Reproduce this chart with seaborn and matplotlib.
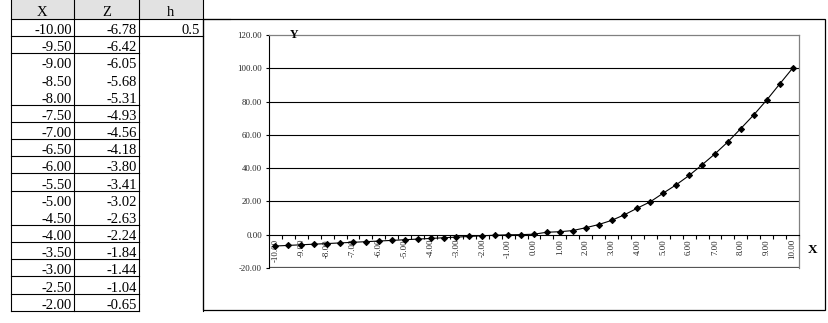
import matplotlib
matplotlib.use("Agg")
import matplotlib.pyplot as plt
from matplotlib.lines import Line2D
from matplotlib.patches import Rectangle
import numpy as np
import seaborn as sns

# ---------------- data ----------------
x_values = [-10.0, -9.5, -9.0, -8.5, -8.0, -7.5, -7.0, -6.5, -6.0, -5.5,
            -5.0, -4.5, -4.0, -3.5, -3.0, -2.5, -2.0, -1.5, -1.0, -0.5,
            0.0, 0.5, 1.0, 1.5, 2.0, 2.5, 3.0, 3.5, 4.0, 4.5,
            5.0, 5.5, 6.0, 6.5, 7.0, 7.5, 8.0, 8.5, 9.0, 9.5, 10.0]
y_values = [-6.78, -6.42, -6.05, -5.68, -5.31, -4.93, -4.56, -4.18, -3.80, -3.41,
            -3.02, -2.63, -2.24, -1.84, -1.44, -1.04, -0.65, -0.30, -0.05, 0.05,
            0.3, 1.5, 1.8, 2.5, 4.2, 6.1, 8.6, 12.0, 16.0, 19.8,
            25.0, 30.0, 35.6, 42.0, 48.6, 55.8, 63.8, 72.0, 80.9, 90.5, 100.0]
x_tick_labels = ["-10.00", "-9.00", "-8.00", "-7.00", "-6.00", "-5.00", "-4.00",
                 "-3.00", "-2.00", "-1.00", "0.00", "1.00", "2.00", "3.00",
                 "4.00", "5.00", "6.00", "7.00", "8.00", "9.00", "10.00"]
x_tick_values = [-10, -9, -8, -7, -6, -5, -4, -3, -2, -1, 0,
                 1, 2, 3, 4, 5, 6, 7, 8, 9, 10]
y_tick_values = [-20, 0, 20, 40, 60, 80, 100, 120]
gridline_values = [20, 40, 60, 80, 100]

table_headers = ["X", "Z", "h"]
table_x = ["-10.00", "-9.50", "-9.00", "-8.50", "-8.00", "-7.50", "-7.00", "-6.50",
           "-6.00", "-5.50", "-5.00", "-4.50", "-4.00", "-3.50", "-3.00", "-2.50", "-2.00"]
table_z = ["-6.78", "-6.42", "-6.05", "-5.68", "-5.31", "-4.93", "-4.56", "-4.18",
           "-3.80", "-3.41", "-3.02", "-2.63", "-2.24", "-1.84", "-1.44", "-1.04", "-0.65"]
table_h = "0.5"
rows_with_bottom_border = [0, 1, 4, 5, 6, 7, 8, 9, 11, 12, 13, 14, 15, 16]

# ---------------- figure ----------------
W, H = 829, 323
fig = plt.figure(figsize=(W / 100, H / 100), dpi=100)
plt.rcParams['font.family'] = ['Liberation Serif', 'DejaVu Serif']
SERIF = ['Liberation Serif', 'DejaVu Serif']


def fx(px):
    return px / W


def fy(py):
    return 1 - py / H


def hline(x0, x1, y, color='black', lw=0.8):
    fig.add_artist(Line2D([fx(x0), fx(x1)], [fy(y), fy(y)], color=color, lw=lw,
                          transform=fig.transFigure))


def vline(x, y0, y1, color='black', lw=0.8):
    fig.add_artist(Line2D([fx(x), fx(x)], [fy(y0), fy(y1)], color=color, lw=lw,
                          transform=fig.transFigure))


# ---------------- spreadsheet table ----------------
col_edges = [11, 74, 139, 203]
header_top, header_bot = 0, 19
row_h = 17.16

fig.add_artist(Rectangle((fx(col_edges[0]), fy(header_bot)),
                         fx(col_edges[3] - col_edges[0]), (header_bot - header_top) / H,
                         transform=fig.transFigure, facecolor='#e2e2e2',
                         edgecolor='none', zorder=0))
header_centers = [42, 106.5, 171]
for label, cx in zip(table_headers, header_centers):
    fig.text(fx(cx), fy(16.3), label, ha='center', va='baseline',
             fontsize=10.5, family=SERIF)

hline(col_edges[0], 230, header_bot)
for c in col_edges:
    vline(c, header_top, header_bot + row_h * len(table_x))

for i, (xs, zs) in enumerate(zip(table_x, table_z)):
    bottom = header_bot + row_h * (i + 1)
    fig.text(fx(72), fy(bottom - 2), xs, ha='right', va='baseline',
             fontsize=10.5, family=SERIF)
    fig.text(fx(137), fy(bottom - 2), zs, ha='right', va='baseline',
             fontsize=10.5, family=SERIF)
    if i in rows_with_bottom_border:
        hline(col_edges[0], col_edges[2], bottom)
fig.text(fx(199.5), fy(header_bot + row_h - 2), table_h, ha='right', va='baseline',
         fontsize=10.5, family=SERIF)
hline(col_edges[2], col_edges[3], header_bot + row_h)

# ---------------- chart frame ----------------
fig.add_artist(Rectangle((fx(203), fy(310)), fx(825 - 203), (310 - 19) / H,
                         transform=fig.transFigure, facecolor='none',
                         edgecolor='black', lw=0.9, zorder=1))

# ---------------- chart ----------------
ax_l, ax_r, ax_t, ax_b = 269, 799, 35, 268
ax = fig.add_axes([fx(ax_l), fy(ax_b), fx(ax_r - ax_l), (ax_b - ax_t) / H])
ax.set_facecolor('white')

for g in gridline_values:
    ax.axhline(g, color='black', lw=0.8, zorder=1)
ax.axhline(-20, color='#555555', lw=1.6, zorder=1)

sns.lineplot(x=x_values, y=y_values, ax=ax, color='black', linewidth=0.8,
             marker='D', markersize=3.1, markeredgecolor='black',
             markerfacecolor='black', zorder=3)

ax.set_xlim(-10.25, 10.25)
ax.set_ylim(-20, 120)

ax.spines['bottom'].set_position(('data', 0))
ax.spines['bottom'].set_color('black')
ax.spines['bottom'].set_linewidth(0.8)
ax.spines['left'].set_color('black')
ax.spines['left'].set_linewidth(0.8)
ax.spines['top'].set_color('#808080')
ax.spines['top'].set_linewidth(0.9)
ax.spines['right'].set_color('#808080')
ax.spines['right'].set_linewidth(0.9)

ax.set_xticks(x_tick_values)
ax.set_xticklabels(x_tick_labels, rotation=90, fontsize=6.3, family=SERIF,
                   color='#222222', va='top', ha='center')
ax.set_xticks(np.arange(-10.25, 10.26, 0.5), minor=True)
ax.tick_params(axis='x', which='major', length=0, pad=3)
ax.tick_params(axis='x', which='minor', length=3, width=0.8, direction='out',
               color='black')

ax.set_yticks(y_tick_values)
ax.set_yticklabels([f"{v:.2f}" for v in y_tick_values], fontsize=6.3,
                   family=SERIF, color='#222222')
ax.tick_params(axis='y', length=2, width=0.8, pad=3, color='black')

ax.set_xlabel('')
ax.set_ylabel('')

fig.text(fx(294), fy(38), 'Y', ha='center', va='baseline', fontsize=8.5,
         fontweight='bold', family=SERIF)
fig.text(fx(813), fy(253), 'X', ha='center', va='baseline', fontsize=9.5,
         fontweight='bold', family=SERIF)

fig.savefig('out.png', dpi=100)
